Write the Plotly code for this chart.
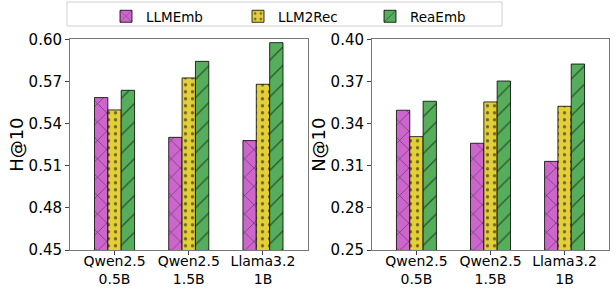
import plotly.graph_objects as go

categories = ["Qwen2.5<br>0.5B", "Qwen2.5<br>1.5B", "Llama3.2<br>1B"]
methods = ["LLMEmb", "LLM2Rec", "ReaEmb"]
hit10 = {
    "LLMEmb": [0.5585, 0.5302, 0.5279],
    "LLM2Rec": [0.5497, 0.5725, 0.5680],
    "ReaEmb": [0.5637, 0.5843, 0.5976],
}
ndcg10 = {
    "LLMEmb": [0.3495, 0.3260, 0.3131],
    "LLM2Rec": [0.3307, 0.3554, 0.3523],
    "ReaEmb": [0.3559, 0.3703, 0.3824],
}
h_ticks = [0.45, 0.48, 0.51, 0.54, 0.57, 0.60]
n_ticks = [0.25, 0.28, 0.31, 0.34, 0.37, 0.40]

colors = {"LLMEmb": "#cc66cc", "LLM2Rec": "#e3cf3a", "ReaEmb": "#56ad5b"}
patterns = {"LLMEmb": "x", "LLM2Rec": ".", "ReaEmb": "/"}
psize = {"LLMEmb": 13, "LLM2Rec": 7, "ReaEmb": 13}
psol = {"LLMEmb": 0.1, "LLM2Rec": 0.17, "ReaEmb": 0.1}

xpos = list(range(len(categories)))

fig = go.Figure()
for col, data in [(1, hit10), (2, ndcg10)]:
    for m in methods:
        fig.add_trace(go.Bar(
            x=xpos, y=data[m], name=m,
            xaxis="x" if col == 1 else "x2",
            yaxis="y" if col == 1 else "y2",
            showlegend=(col == 1),
            marker=dict(color=colors[m],
                        line=dict(color="black", width=0.8),
                        pattern=dict(shape=patterns[m], fgcolor="black",
                                     bgcolor=colors[m], size=psize[m],
                                     solidity=psol[m], fillmode="overlay")),
        ))

W, H = 616, 291
ydom = [41 / H, (H - 39.3) / H]
axis_common = dict(showline=True, linecolor="#777777", linewidth=1, mirror=True,
                   ticks="outside", ticklen=4, tickcolor="#444444",
                   showgrid=False, zeroline=False, automargin=False)
tickfont = dict(family="DejaVu Sans", size=15, color="black")
xtickfont = dict(family="DejaVu Sans", size=14, color="black")

fig.update_layout(
    width=W, height=H,
    margin=dict(l=0, r=0, t=0, b=0),
    paper_bgcolor="white", plot_bgcolor="white",
    barmode="group", bargap=0.46, bargroupgap=0,
    font=dict(family="DejaVu Sans", color="black"),
    xaxis=dict(domain=[70 / W, 307.5 / W], anchor="y", range=[-0.6, 2.6],
               tickvals=xpos, ticktext=categories, tickangle=0, ticklabelstandoff=-6,
               tickfont=xtickfont, **axis_common),
    yaxis=dict(domain=ydom, anchor="x", range=[0.45, 0.60], tickvals=h_ticks,
               ticktext=[f"{v:.2f}" for v in h_ticks], tickfont=tickfont,
               title=dict(text="H@10", font=dict(size=18, family="DejaVu Sans"), standoff=0),
               **axis_common),
    xaxis2=dict(domain=[372 / W, 609 / W], anchor="y2", range=[-0.6, 2.6],
                tickvals=xpos, ticktext=categories, tickangle=0, ticklabelstandoff=-6,
                tickfont=xtickfont, **axis_common),
    yaxis2=dict(domain=ydom, anchor="x2", range=[0.25, 0.40], tickvals=n_ticks,
                ticktext=[f"{v:.2f}" for v in n_ticks], tickfont=tickfont,
                title=dict(text="N@10", font=dict(size=18, family="DejaVu Sans"), standoff=0),
                **axis_common),
    legend=dict(orientation="h", x=106 / W, xanchor="left", y=1 - 1 / H, yanchor="top",
                borderwidth=0, bgcolor="rgba(0,0,0,0)",
                font=dict(family="DejaVu Sans", size=13.5),
                entrywidth=87, entrywidthmode="pixels"),
    shapes=[dict(type="rect", xref="paper", yref="paper",
                 x0=67 / W, x1=502 / W, y0=1 - 26 / H, y1=1 - 2 / H,
                 line=dict(color="#d0d0d0", width=1), fillcolor="white", layer="below")],
)

fig.write_html("out.html", post_script="document.body.style.margin='0';",
               config={"displayModeBar": False})
